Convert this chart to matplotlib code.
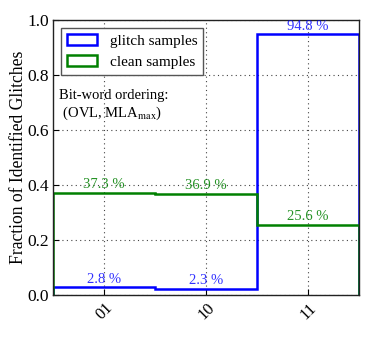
import matplotlib
matplotlib.use("Agg")
import matplotlib.pyplot as plt
import numpy as np

categories = ["01", "10", "11"]
glitch = [0.028, 0.023, 0.948]
clean = [0.373, 0.369, 0.256]
glitch_labels = ["2.8 %", "2.3 %", "94.8 %"]
clean_labels = ["37.3 %", "36.9 %", "25.6 %"]

plt.rcParams['font.family'] = ['Liberation Serif', 'DejaVu Serif']
plt.rcParams['mathtext.fontset'] = 'stix'

fig = plt.figure(figsize=(3.74, 3.40), dpi=100)
ax = fig.add_axes([0.142, 0.132, 0.818, 0.809])

x = np.arange(len(categories))
bins = np.arange(len(categories) + 1)
ax.hist(x, bins=bins, weights=glitch, histtype='step', color='b', lw=1.8, label='glitch samples')
ax.hist(x, bins=bins, weights=clean, histtype='step', color='g', lw=1.8, label='clean samples')

for i in range(len(categories)):
    ax.text(x[i] + 0.5, glitch[i] + 0.005, glitch_labels[i], color='b', alpha=0.8,
            ha='center', va='bottom', fontsize=10.5)
    ax.text(x[i] + 0.5, clean[i] + 0.005, clean_labels[i], color='g', alpha=0.85,
            ha='center', va='bottom', fontsize=10.5)

ax.set_xlim(0, 3)
ax.set_ylim(0, 1.0)
ax.set_xticks(x + 0.5)
ax.set_xticklabels(categories, rotation=45, fontsize=12)
ax.set_yticks([0.0, 0.2, 0.4, 0.6, 0.8, 1.0])
ax.set_yticklabels(["0.0", "0.2", "0.4", "0.6", "0.8", "1.0"], fontsize=12.5)
ax.tick_params(direction='in', length=4)
ax.tick_params(axis='y', pad=3)
ax.grid(True, linestyle=(0, (1, 3)), color='#444444', lw=0.8)
ax.set_axisbelow(True)
ax.set_ylabel("Fraction of Identified Glitches", fontsize=12.7)
ax.yaxis.set_label_coords(-0.085, 0.5)
for s in ax.spines.values():
    s.set_linewidth(1.0)
    s.set_color('#222222')

leg = ax.legend(loc='upper left', fontsize=11, fancybox=False, framealpha=1,
                edgecolor='#555555', borderaxespad=0.5)
leg.get_frame().set_linewidth(1.0)

ax.text(0.02, 0.75, "Bit-word ordering:\n (OVL, MLA$_{\\mathrm{max}}$)", transform=ax.transAxes,
        fontsize=10.5, va='top', ha='left')

fig.savefig("out.png", dpi=100)
